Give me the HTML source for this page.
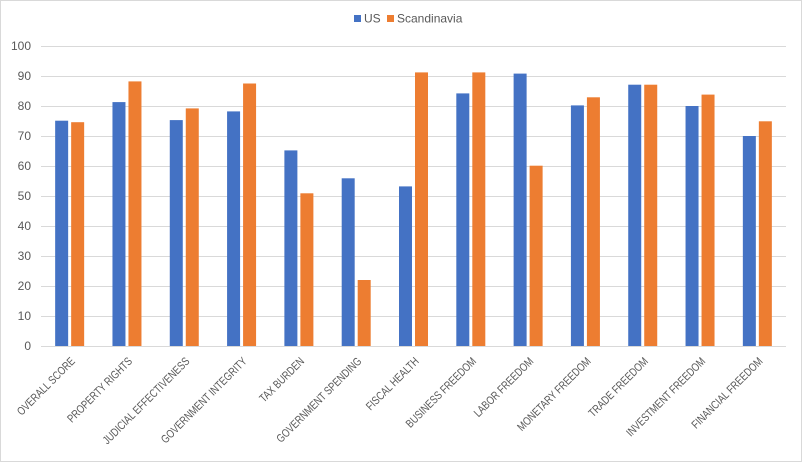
<!DOCTYPE html>
<html><head><meta charset="utf-8"><style>
body{margin:0;background:#fff}
#c{position:absolute;left:0;top:0;width:800px;height:460px;border:1px solid #d9d9d9;background:#fff}
text{font-family:"Liberation Sans",sans-serif;fill:#595959}
</style></head><body>
<div id="c">
<svg id="s" width="800" height="460">
<g id="legend">
<rect x="353" y="14" width="7" height="7" fill="#4472c4"/>
<text x="363" y="21.5" font-size="12">US</text>
<rect x="386" y="14" width="7" height="7" fill="#ed7d31"/>
<text x="396" y="21.5" font-size="12">Scandinavia</text>
</g>
</svg></div>
<script>
const categories=["OVERALL SCORE","PROPERTY RIGHTS","JUDICIAL EFFECTIVENESS","GOVERNMENT INTEGRITY","TAX BURDEN","GOVERNMENT SPENDING","FISCAL HEALTH","BUSINESS FREEDOM","LABOR FREEDOM","MONETARY FREEDOM","TRADE FREEDOM","INVESTMENT FREEDOM","FINANCIAL FREEDOM"];
const usValues=[75.1,81.3,75.3,78.2,65.2,55.9,53.2,84.2,90.8,80.2,87.1,80,70];
const scandiValues=[74.6,88.2,79.2,87.5,50.9,22,91.2,91.2,60.1,82.9,87.1,83.8,74.9];
const yTicks=[0,10,20,30,40,50,60,70,80,90,100];
const svg=document.getElementById('s');const NS='http://www.w3.org/2000/svg';
const x0=40,x1=785,y0=345,y1=45;
const y=v=>y0-(v/100)*(y0-y1);
const bw=(x1-x0)/categories.length;
const cx=i=>x0+bw*(i+0.5);
function mk(t,a){const e=document.createElementNS(NS,t);for(const k in a)e.setAttribute(k,a[k]);svg.appendChild(e);return e;}
yTicks.forEach(t=>{
const l=mk('line',{x1:x0,x2:x1,y1:y(t)+0.5,y2:y(t)+0.5,stroke:'#d9d9d9','stroke-width':1});


const tx=mk('text',{x:30,y:y(t)+4,'font-size':12,'text-anchor':'end'});tx.textContent=t;


});
categories.forEach((c,i)=>{
const a=mk('rect',{x:cx(i)-14.5,y:y(usValues[i]),width:13,height:y0-y(usValues[i]),fill:'#4472c4'});


const b=mk('rect',{x:cx(i)+1.5,y:y(scandiValues[i]),width:13,height:y0-y(scandiValues[i]),fill:'#ed7d31'});


const t=mk('text',{x:0,y:0,'font-size':11.5,'text-anchor':'end',transform:`translate(${cx(i)+6},${y0+16}) rotate(-45) scale(0.79,1)`});
t.textContent=c;


});
</script>
</body></html>
